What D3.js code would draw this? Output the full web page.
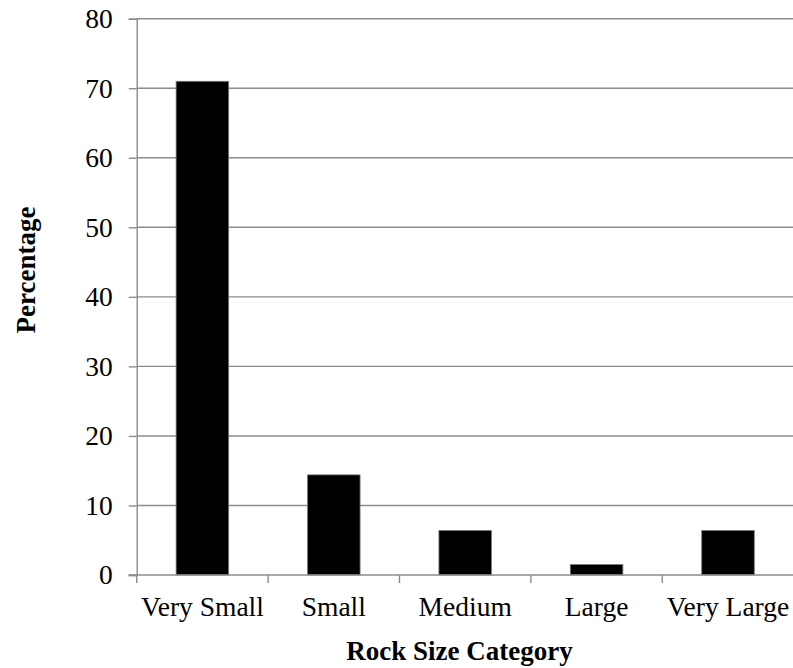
<!DOCTYPE html>
<html>
<head>
<meta charset="utf-8">
<script src="https://cdn.jsdelivr.net/npm/d3@7"></script>
<style>
  body { margin: 0; background: #fff; }
  text { font-family: "Liberation Serif", "Times New Roman", serif; fill: #000; }
</style>
</head>
<body>
<div id="vis"></div>
<script>
const categories = ["Very Small", "Small", "Medium", "Large", "Very Large"];
const percentages = [71, 14.4, 6.4, 1.5, 6.4];
const yTicks = [0, 10, 20, 30, 40, 50, 60, 70, 80];

const WIDTH = 793,
      HEIGHT = 668;

const margins = {
  top: 18.7,
  bottom: 93,
  left: 136.7,
  right: -0.7
};

const SVG = d3.select("#vis").append("svg")
  .attr("width", WIDTH)
  .attr("height", HEIGHT);

const escalaX = d3.scaleBand()
  .domain(categories)
  .range([margins.left, WIDTH - margins.right])
  .padding(0);

const escalaY = d3.scaleLinear()
  .domain([0, 80])
  .range([HEIGHT - margins.bottom, margins.top]);

// lineas de grilla
SVG.append("g")
  .selectAll("line")
  .data(yTicks.filter(d => d > 0))
  .join("line")
  .attr("x1", margins.left)
  .attr("x2", WIDTH)
  .attr("y1", d => escalaY(d))
  .attr("y2", d => escalaY(d))
  .attr("stroke", "#8c8c8c")
  .attr("stroke-width", 1.4);

// barras
const bw = escalaX.bandwidth();
SVG.append("g")
  .selectAll("rect")
  .data(categories)
  .join("rect")
  .attr("x", d => escalaX(d) + bw * 0.3)
  .attr("width", bw * 0.4)
  .attr("y", (d, i) => escalaY(percentages[i]))
  .attr("height", (d, i) => escalaY(0) - escalaY(percentages[i]))
  .attr("fill", "#000")
  .attr("stroke", "#7a7a7a")
  .attr("stroke-width", 0.8);

// eje Y
const ejeY = SVG.append("g")
  .attr("transform", `translate(${margins.left},0)`)
  .attr("font-family", null)
  .call(d3.axisLeft(escalaY).tickValues(yTicks).tickSize(8).tickPadding(16));
ejeY.attr("font-family", null).attr("font-size", null);
ejeY.selectAll("path, line").attr("stroke", "#8c8c8c").attr("stroke-width", 1.4);
ejeY.selectAll("text").style("font-size", "27.5px");

// eje X: ticks en los bordes de cada categoria
const ejeXg = SVG.append("g");
ejeXg.append("line")
  .attr("x1", margins.left - 8)
  .attr("x2", WIDTH)
  .attr("y1", escalaY(0))
  .attr("y2", escalaY(0))
  .attr("stroke", "#8c8c8c")
  .attr("stroke-width", 1.4);
ejeXg.selectAll(".tk")
  .data(categories)
  .join("line")
  .attr("class", "tk")
  .attr("x1", d => escalaX(d))
  .attr("x2", d => escalaX(d))
  .attr("y1", escalaY(0))
  .attr("y2", escalaY(0) + 8)
  .attr("stroke", "#8c8c8c")
  .attr("stroke-width", 1.4);
ejeXg.selectAll(".lbl")
  .data(categories)
  .join("text")
  .attr("class", "lbl")
  .attr("x", d => escalaX(d) + bw / 2)
  .attr("y", 616)
  .attr("text-anchor", "middle")
  .style("font-size", "27.5px")
  .text(d => d);

// titulos
SVG.append("text")
  .attr("x", 459.5)
  .attr("y", 660)
  .attr("text-anchor", "middle")
  .style("font-size", "27px")
  .style("font-weight", "bold")
  .text("Rock Size Category");

SVG.append("text")
  .attr("transform", "translate(35,270) rotate(-90)")
  .attr("text-anchor", "middle")
  .style("font-size", "27px")
  .style("font-weight", "bold")
  .text("Percentage");
</script>
</body>
</html>
